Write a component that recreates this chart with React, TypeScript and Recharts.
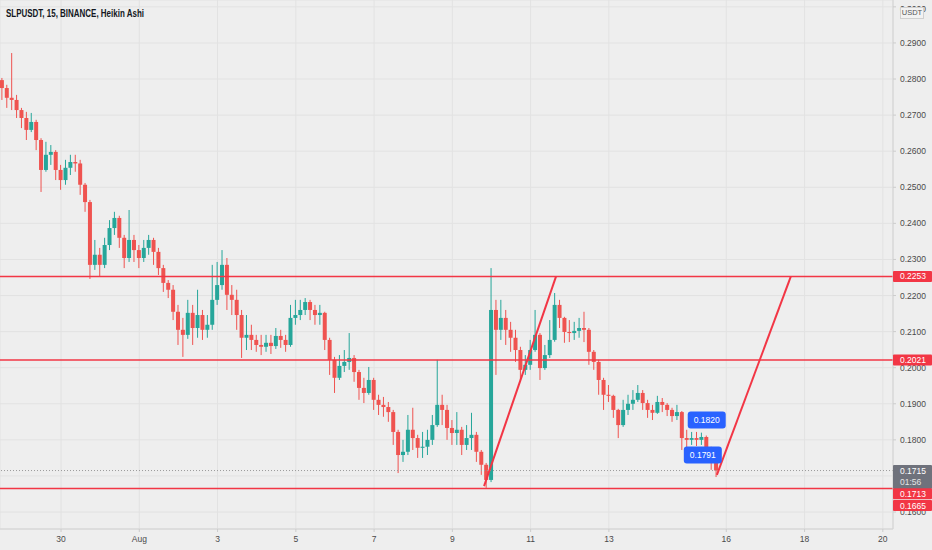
import {
  ComposedChart,
  Bar,
  XAxis,
  YAxis,
  CartesianGrid,
  ReferenceLine,
  ReferenceDot,
} from "recharts";

// 3-hour candles, starting Jul 28 12:00 (day 28.5)
const START_DAY = 28.5;
const STEP_DAYS = 0.125;

const OPEN = [
  0.2797, 0.2775, 0.2748, 0.2742, 0.2714, 0.2692, 0.2659, 0.2681, 0.2631, 0.2548,
  0.259, 0.2598, 0.2548, 0.252, 0.2554, 0.257, 0.2566, 0.2507, 0.2459, 0.2285,
  0.2313, 0.2285, 0.234, 0.2387, 0.2415, 0.236, 0.2304, 0.2354, 0.2326, 0.2304,
  0.2332, 0.2354, 0.2321, 0.2276, 0.2235, 0.2216, 0.2155, 0.2105, 0.2091, 0.2152,
  0.211, 0.2146, 0.2105, 0.2119, 0.2188, 0.2229, 0.2285, 0.2202, 0.2188, 0.2146,
  0.2083, 0.2091, 0.2077, 0.2063, 0.2058, 0.2069, 0.206, 0.2088, 0.2077, 0.2063,
  0.2138, 0.2146, 0.216, 0.2182, 0.216, 0.2146, 0.2152, 0.2077, 0.2022, 0.1972,
  0.2005, 0.2016, 0.2027, 0.1988, 0.1944, 0.193, 0.1966, 0.1911, 0.1897, 0.1891,
  0.1877, 0.1822, 0.1758, 0.1767, 0.1828, 0.1805, 0.1778, 0.1781, 0.18, 0.1841,
  0.1897, 0.1883, 0.1833, 0.1819, 0.1828, 0.1786, 0.1805, 0.1814, 0.1767, 0.1731,
  0.1689, 0.216, 0.2105, 0.2138, 0.2105, 0.2083, 0.2049, 0.1994, 0.2008, 0.2049,
  0.2091, 0.1999, 0.2035, 0.2077, 0.2174, 0.2138, 0.2099, 0.2096, 0.2102, 0.211,
  0.2105, 0.2044, 0.2016, 0.1966, 0.1925, 0.1922, 0.1883, 0.1841, 0.1883, 0.19,
  0.1911, 0.193, 0.1902, 0.1883, 0.1875, 0.1905, 0.1897, 0.1883, 0.1866, 0.1877,
  0.1805, 0.18, 0.1805, 0.18, 0.1808, 0.1778, 0.1739,
];

const HIGH = [
  0.2803, 0.2784, 0.2872, 0.2756, 0.272, 0.2709, 0.2706, 0.2687, 0.2636, 0.2626,
  0.2617, 0.2603, 0.2562, 0.2576, 0.259, 0.259, 0.2576, 0.2512, 0.2465, 0.2354,
  0.2332, 0.236, 0.2409, 0.2432, 0.2421, 0.2368, 0.2437, 0.2368, 0.234, 0.2354,
  0.2368, 0.236, 0.2332, 0.2285, 0.2243, 0.2229, 0.2174, 0.2138, 0.2188, 0.2174,
  0.2216, 0.216, 0.2146, 0.2285, 0.2293, 0.2326, 0.2304, 0.2229, 0.2216, 0.216,
  0.2146, 0.2119, 0.2091, 0.2091, 0.2091, 0.2091, 0.211, 0.2105, 0.2091, 0.2174,
  0.2188, 0.2188, 0.2193, 0.2188, 0.2174, 0.2174, 0.2155, 0.2083, 0.203, 0.2035,
  0.2049, 0.2096, 0.2035, 0.1994, 0.1972, 0.2002, 0.1972, 0.1925, 0.1919, 0.1905,
  0.1883, 0.1828, 0.18, 0.1869, 0.1889, 0.1814, 0.1822, 0.1828, 0.1869, 0.2022,
  0.1925, 0.1897, 0.1855, 0.1877, 0.1836, 0.1841, 0.1875, 0.1822, 0.1772, 0.1736,
  0.2276, 0.2188, 0.2188, 0.216, 0.2127, 0.2105, 0.2058, 0.2035, 0.2077, 0.216,
  0.2096, 0.2063, 0.2132, 0.2207, 0.2188, 0.2141, 0.2132, 0.2127, 0.2138, 0.2155,
  0.211, 0.2049, 0.2022, 0.1972, 0.1952, 0.1925, 0.1886, 0.1911, 0.1925, 0.1938,
  0.1952, 0.1938, 0.1911, 0.1897, 0.1922, 0.1916, 0.1902, 0.1889, 0.1897, 0.188,
  0.1828, 0.1822, 0.1822, 0.182, 0.1812, 0.1781, 0.1742,
];

const LOW = [
  0.2742, 0.272, 0.2714, 0.2692, 0.2664, 0.2631, 0.2653, 0.2603, 0.2487, 0.2543,
  0.2562, 0.252, 0.2493, 0.2507, 0.2534, 0.2543, 0.2479, 0.2432, 0.2246, 0.2271,
  0.2254, 0.2276, 0.2326, 0.2368, 0.2332, 0.2276, 0.2293, 0.2293, 0.2276, 0.2293,
  0.2313, 0.2285, 0.2257, 0.221, 0.2193, 0.2132, 0.2063, 0.203, 0.208, 0.2063,
  0.2083, 0.2077, 0.2083, 0.2105, 0.2174, 0.2216, 0.216, 0.2146, 0.2105, 0.2027,
  0.2049, 0.2049, 0.2044, 0.2035, 0.2044, 0.2038, 0.2052, 0.2055, 0.2044, 0.2058,
  0.2119, 0.2132, 0.2146, 0.2132, 0.2119, 0.2119, 0.2049, 0.198, 0.193, 0.1966,
  0.1988, 0.1994, 0.1961, 0.1911, 0.1902, 0.1925, 0.1883, 0.1869, 0.1864, 0.185,
  0.1786, 0.1708, 0.1739, 0.1758, 0.1772, 0.175, 0.175, 0.1758, 0.1786, 0.1836,
  0.1841, 0.18, 0.1786, 0.1786, 0.1758, 0.1772, 0.1772, 0.1739, 0.1703, 0.1667,
  0.1683, 0.198, 0.2077, 0.2063, 0.2044, 0.2016, 0.1966, 0.198, 0.1994, 0.2044,
  0.1966, 0.1994, 0.2027, 0.2072, 0.211, 0.2069, 0.2071, 0.2077, 0.2083, 0.2071,
  0.2008, 0.1994, 0.1925, 0.1883, 0.1905, 0.1861, 0.1805, 0.1836, 0.1869, 0.1883,
  0.1905, 0.1883, 0.1861, 0.1855, 0.1872, 0.1877, 0.1866, 0.185, 0.1855, 0.1772,
  0.1778, 0.1786, 0.1783, 0.1786, 0.1758, 0.1717, 0.1697,
];

const CLOSE = [
  0.2775, 0.2748, 0.2742, 0.2714, 0.2692, 0.2659, 0.2681, 0.2631, 0.2548, 0.259,
  0.2598, 0.2548, 0.252, 0.2554, 0.257, 0.2566, 0.2507, 0.2459, 0.2285, 0.2313,
  0.2285, 0.234, 0.2387, 0.2415, 0.236, 0.2304, 0.2354, 0.2326, 0.2304, 0.2332,
  0.2354, 0.2321, 0.2276, 0.2235, 0.2216, 0.2155, 0.2105, 0.2091, 0.2152, 0.211,
  0.2146, 0.2105, 0.2119, 0.2188, 0.2229, 0.2285, 0.2202, 0.2188, 0.2146, 0.2083,
  0.2091, 0.2077, 0.2063, 0.2058, 0.2069, 0.206, 0.2088, 0.2077, 0.2063, 0.2138,
  0.2146, 0.216, 0.2182, 0.216, 0.2146, 0.2152, 0.2077, 0.2022, 0.1972, 0.2005,
  0.2016, 0.2027, 0.1988, 0.1944, 0.193, 0.1966, 0.1911, 0.1897, 0.1891, 0.1877,
  0.1822, 0.1758, 0.1767, 0.1828, 0.1805, 0.1778, 0.1781, 0.18, 0.1841, 0.1897,
  0.1883, 0.1833, 0.1819, 0.1828, 0.1786, 0.1805, 0.1814, 0.1767, 0.1731, 0.1689,
  0.216, 0.2105, 0.2138, 0.2105, 0.2083, 0.2049, 0.1994, 0.2008, 0.2049, 0.2091,
  0.1999, 0.2035, 0.2077, 0.2174, 0.2138, 0.2099, 0.2096, 0.2102, 0.211, 0.2105,
  0.2044, 0.2016, 0.1966, 0.1925, 0.1922, 0.1883, 0.1841, 0.1883, 0.19, 0.1911,
  0.193, 0.1902, 0.1883, 0.1875, 0.1905, 0.1897, 0.1883, 0.1866, 0.1877, 0.1805,
  0.18, 0.1805, 0.18, 0.1808, 0.1778, 0.1739, 0.1715,
];

// x axis: day numbers counted from Jul 1 (Aug 1 = 32)
const DAY_TICKS = [30, 32, 34, 36, 38, 40, 42, 44, 47, 49, 51];
const DAY_LABELS = ["30", "Aug", "3", "5", "7", "9", "11", "13", "16", "18", "20"];
const PRICE_TICKS = [
  0.16, 0.17, 0.18, 0.19, 0.2, 0.21, 0.22, 0.23, 0.24, 0.25, 0.26, 0.27, 0.28, 0.29, 0.3,
];
// tick labels that sit fully under the last-price tag
const COVERED_TICKS = [0.17];

const RESISTANCE = 0.2253;
const MIDDLE = 0.2021;
const SUPPORT = 0.1665;
const LAST_PRICE = 0.1715;
const ALERT_PRICE = 0.1713;

// drawn trend lines [day, price]
const TREND_1 = [
  [40.81, 0.1672],
  [42.65, 0.2253],
];
const TREND_2 = [
  [46.76, 0.1703],
  [48.65, 0.2253],
];

const NOTES = [
  { day: 46.5, price: 0.1855, text: "0.1820" },
  { day: 46.4, price: 0.1758, text: "0.1791" },
];

const UP = "#26a69a";
const DOWN = "#ef5350";
const RED = "#f23645";
const FONT = "'Liberation Sans', Arial, sans-serif";

const candles = CLOSE.map((close, i) => ({
  t: START_DAY + i * STEP_DAYS,
  open: OPEN[i],
  high: HIGH[i],
  low: LOW[i],
  close,
}));

function Candle(props: any) {
  const { x, y, width, height, payload } = props;
  if (x == null || y == null) return null;
  const { open, close, high, low } = payload;
  const color = close >= open ? UP : DOWN;
  const top = height < 0 ? y + height : y;
  const h = Math.abs(height);
  const ratio = h / Math.max(high - low, 1e-9);
  const bodyTop = top + (high - Math.max(open, close)) * ratio;
  const bodyBot = top + (high - Math.min(open, close)) * ratio;
  const cx = x + width / 2;
  return (
    <g>
      <line x1={cx} x2={cx} y1={top} y2={top + h} stroke={color} strokeWidth={1} />
      <rect x={x} y={bodyTop} width={width} height={Math.max(1, bodyBot - bodyTop)} fill={color} />
    </g>
  );
}

function PriceTick(props: any) {
  const { x, y, payload } = props;
  if (COVERED_TICKS.includes(payload.value)) return null;
  return (
    <text x={x} y={y} dy="0.35em" fontSize={8.5} fill="#4a4a4a" fontFamily={FONT} textAnchor="start">
      {payload.value.toFixed(4)}
    </text>
  );
}

// price tag on the price scale, anchored to the scale's y for its value
function PriceTag(props: any) {
  const { cy, text, sub, bg, shift = 0 } = props;
  if (cy == null) return null;
  const left = 893;
  const y = cy + shift;
  const h = sub ? 24 : 11;
  return (
    <g>
      <rect x={left} y={y - 5.5} width={39} height={h} style={{ fill: bg }} rx={1} />
      <text x={left + 7} y={y} dy="0.35em" style={{ fill: "#ffffff" }} fontSize={8.5} fontFamily={FONT}>
        {text}
      </text>
      {sub && (
        <text x={left + 7} y={y + 11} dy="0.35em" style={{ fill: "#e4e4e4" }} fontSize={8.5} fontFamily={FONT}>
          {sub}
        </text>
      )}
    </g>
  );
}

function Note(props: any) {
  const { cx, cy, text } = props;
  if (cx == null || cy == null) return null;
  return (
    <g>
      <rect x={cx - 19} y={cy - 8.5} width={38} height={17} rx={3} fill="#2962ff" />
      <text x={cx} y={cy} dy="0.35em" textAnchor="middle" fill="#ffffff" fontSize={8.5} fontFamily={FONT}>
        {text}
      </text>
    </g>
  );
}

const TAGS = [
  { price: LAST_PRICE, bg: "#6f727c", sub: "01:56", shift: 0 },
  { price: RESISTANCE, bg: RED, sub: "", shift: 0 },
  { price: MIDDLE, bg: RED, sub: "", shift: 0 },
  { price: ALERT_PRICE, bg: RED, sub: "", shift: 22.6 },
  { price: SUPPORT, bg: RED, sub: "", shift: 17 },
];

export default function App() {
  return (
    <div
      style={{
        position: "absolute",
        left: 0,
        top: 0,
        width: 932,
        height: 550,
        background: "#eeeeee",
        fontFamily: FONT,
      }}
    >
      <ComposedChart width={932} height={550} data={candles} margin={{ top: 0, right: 0, bottom: 0, left: 0 }}>
        <CartesianGrid stroke="#e2e2e2" />
        <XAxis
          dataKey="t"
          type="number"
          domain={[28.44, 51.26]}
          ticks={DAY_TICKS}
          tickFormatter={(v: number) => DAY_LABELS[DAY_TICKS.indexOf(v)] ?? ""}
          allowDataOverflow
          height={21}
          tick={{ fontSize: 8.5, fill: "#4a4a4a", fontFamily: FONT }}
          tickSize={3}
          tickMargin={4}
          axisLine={{ stroke: "#d2d2d2" }}
          tickLine={{ stroke: "#cccccc" }}
        />
        <YAxis
          orientation="right"
          type="number"
          domain={[0.1553, 0.3019]}
          ticks={PRICE_TICKS}
          allowDataOverflow
          width={39}
          tick={<PriceTick />}
          tickSize={3}
          tickMargin={4}
          axisLine={{ stroke: "#d2d2d2" }}
          tickLine={{ stroke: "#cccccc" }}
        />
        <ReferenceLine y={LAST_PRICE} stroke="#9a9a9a" strokeDasharray="1 2" />
        <Bar
          dataKey={(d: any) => [d.low, d.high]}
          barSize={4}
          shape={(p: any) => <Candle {...p} />}
          isAnimationActive={false}
        />
        <ReferenceLine y={RESISTANCE} stroke={RED} strokeWidth={1.5} />
        <ReferenceLine y={MIDDLE} stroke={RED} strokeWidth={1.5} />
        <ReferenceLine y={SUPPORT} stroke={RED} strokeWidth={1.5} />
        <ReferenceLine
          segment={TREND_1.map(([x, y]) => ({ x, y }))}
          stroke={RED}
          strokeWidth={2}
        />
        <ReferenceLine
          segment={TREND_2.map(([x, y]) => ({ x, y }))}
          stroke={RED}
          strokeWidth={2}
        />
        {NOTES.map((n) => (
          <ReferenceDot
            key={n.text}
            x={n.day}
            y={n.price}
            r={0}
            shape={(p: any) => <Note {...p} text={n.text} />}
          />
        ))}
        {TAGS.map((g) => (
          <ReferenceDot
            key={g.price}
            x={51}
            y={g.price}
            r={0}
            zIndex={3000}
            shape={(p: any) => (
              <PriceTag {...p} text={g.price.toFixed(4)} sub={g.sub} bg={g.bg} shift={g.shift} />
            )}
          />
        ))}
      </ComposedChart>
      <svg style={{ position: "absolute", left: 0, top: 0 }} width={200} height={24}>
        <text
          x={6}
          y={13}
          dy="0.35em"
          fontSize={10}
          fontWeight={700}
          fill="#131722"
          fontFamily={FONT}
          textLength={138}
          lengthAdjust="spacingAndGlyphs"
        >
          SLPUSDT, 15, BINANCE, Heikin Ashi
        </text>
      </svg>
      <div
        style={{
          position: "absolute",
          left: 900,
          top: 7,
          width: 24,
          height: 12,
          boxSizing: "border-box",
          border: "1px solid #d0d0d0",
          background: "#f2f2f2",
          fontSize: 7.5,
          lineHeight: "10px",
          textAlign: "center",
          color: "#555",
        }}
      >
        USDT
      </div>
    </div>
  );
}
